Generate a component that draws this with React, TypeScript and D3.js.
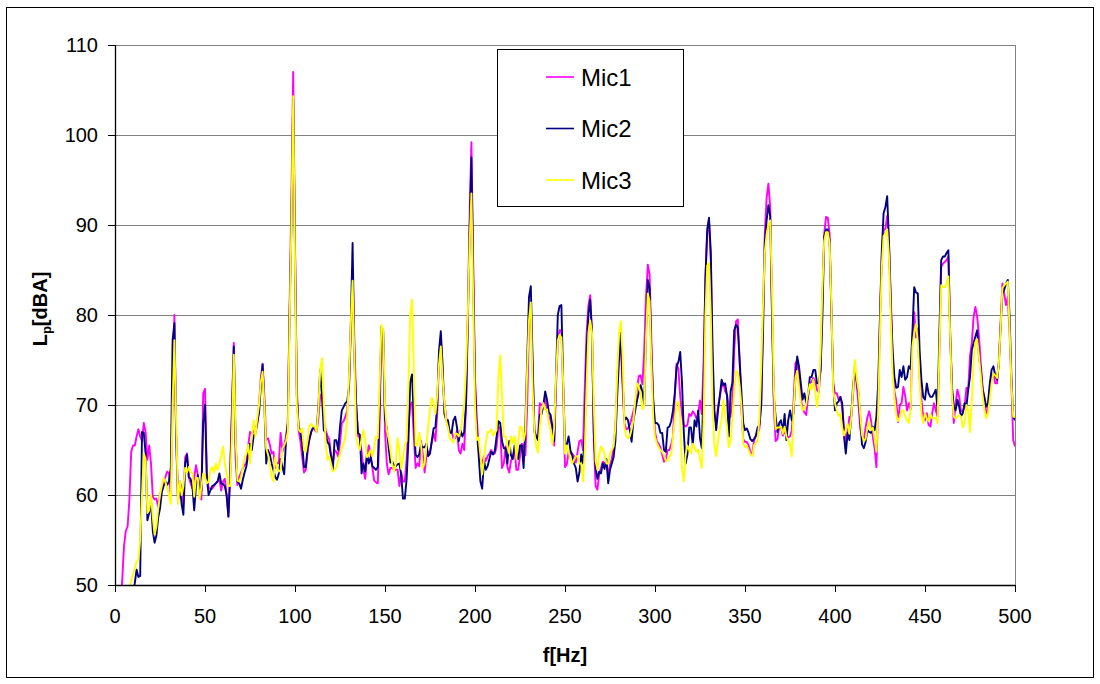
import React from "react";
import * as d3 from "d3";

// Frequency axis: one sample per Hz from 0 to 500 Hz
const F_START = 0;
const F_END = 500;
const freqs: number[] = d3.range(F_START, F_END + 1);

const yTicks = [50, 60, 70, 80, 90, 100, 110];
const xTicks = [0, 50, 100, 150, 200, 250, 300, 350, 400, 450, 500];
const seriesNames = ["Mic1", "Mic2", "Mic3"];
const seriesColors = ["#FF00FF", "#000080", "#FFFF00"];

// Mic1 (magenta), Lp in dBA at f = 0,1,2,...,500 Hz
const mic1: number[] = [
  42, 44, 46, 48, 50.5, 54.3, 56, 56.5, 59.5, 64.8,
  65.5, 65.5, 66.5, 67.3, 66.5, 66, 68, 67, 63.9, 65.5,
  63.5, 59.8, 59.5, 59.6, 58.7, 60, 60.8, 61.5, 62, 62.6,
  62.4, 60, 70, 80, 67, 59.2, 61.5, 60.8, 59, 64.2,
  64.6, 62, 61.3, 60.7, 62, 63.3, 62.2, 60.7, 59.5, 71.3,
  71.8, 62.5, 60.8, 60.7, 60.7, 61, 61.3, 61.5, 61.8, 60.5,
  61.5, 61.8, 60, 57.6, 63, 70, 76.9, 64, 61.1, 62,
  62.5, 63, 63.3, 63.6, 65.5, 67, 66.8, 67.2, 66.8, 67.8,
  70, 73, 74.6, 71, 66.1, 66.3, 65.6, 64.6, 64.8, 63,
  63.6, 63.5, 66.9, 64.8, 65.5, 66.5, 68, 81, 93, 107,
  88, 72, 67.2, 66, 64.2, 62.5, 62.8, 64.8, 66.2, 67,
  67.5, 67.2, 67, 68.5, 71, 71.3, 68.5, 67.2, 66.6, 66.2,
  64.5, 63.5, 65, 64.8, 64.3, 65.8, 68, 68.2, 68.7, 69.4,
  72, 78, 85.2, 77, 70, 66.6, 66.3, 64.8, 62.8, 61.8,
  64.3, 65.5, 64.6, 63, 61.6, 61.4, 61.3, 68, 78.3, 77.5,
  67, 63.5, 62.3, 63, 63, 62.8, 62.8, 62.8, 61, 62.5,
  61.5, 61.5, 63.9, 67.5, 70, 70.3, 66.5, 63, 63.5, 63.2,
  66, 64.5, 62.5, 64.3, 64.8, 64.8, 65.9, 66.9, 66, 69,
  75, 77.5, 73, 70.3, 68.6, 67.5, 67.1, 67.1, 66.3, 66.3,
  67.2, 65, 64.6, 65.7, 65, 70, 80, 91, 99.2, 86,
  73, 68.5, 65.5, 63.5, 63.5, 64.3, 63.8, 64.3, 64.6, 65,
  64.6, 64.6, 65.4, 67.5, 67.5, 63, 63.5, 65.4, 63.1, 62.5,
  63.8, 64.3, 65, 62.8, 62.8, 64.3, 65.7, 65.5, 64.4, 70,
  79, 81.5, 74, 67, 66.3, 66.6, 70.2, 70, 70, 70.7,
  69.5, 68.7, 68.3, 67.5, 65.5, 72, 77, 78.3, 78.3, 71.5,
  63.1, 63.4, 64.8, 64.6, 64.6, 64.3, 63.6, 64.8, 66, 66.1,
  65, 72, 78, 81, 82.2, 78, 66, 61, 60.6, 62.3,
  63, 63.7, 63.5, 63.7, 62.2, 63.3, 64, 65.3, 67.5, 72.5,
  76.5, 76.5, 72, 68, 67.3, 67.4, 67.8, 68.5, 69.3, 70,
  71.8, 73.2, 73.3, 72.3, 76, 82, 85.6, 84.5, 77, 70.5,
  67, 66, 65.7, 65.3, 64.5, 63.7, 64, 65, 65, 65.6,
  66.5, 71, 74.6, 74, 71, 69, 67.8, 67.6, 67.8, 69,
  68.8, 69.3, 69, 68.5, 69, 70.5, 69, 75, 84, 89,
  90.5, 86, 74, 68.5, 68, 69.8, 70.9, 72, 72.4, 71.5,
  71.2, 69.8, 68.7, 70.5, 76, 79.3, 79.5, 75, 69.5, 66.2,
  65.9, 65.9, 65.5, 64.8, 64.4, 66, 66.5, 66.8, 67.4, 70,
  80, 89, 93, 94.6, 92, 81, 70, 66, 66.2, 67.5,
  67.5, 66.6, 67.2, 66.5, 66.4, 66.5, 67.2, 70.5, 74.6, 75,
  73, 70.8, 69.5, 69.2, 68.9, 70.8, 72.4, 72.6, 73, 72.6,
  71.7, 71.4, 74, 82, 89, 90.9, 90.8, 89, 80, 72.4,
  71.3, 71.3, 70.6, 70.9, 69.8, 67.5, 65.8, 67, 68.7, 68.7,
  71, 74.3, 72.4, 70.2, 67.4, 66.5, 66.1, 67.5, 68.6, 69.3,
  68.3, 66.5, 65.2, 63.1, 70.2, 79.8, 86.5, 89.4, 89.6, 91,
  88, 82, 75, 71.5, 70.5, 68.1, 70, 70.2, 72, 71,
  69.4, 70.2, 69.5, 77.5, 80.3, 77.5, 78.5, 73.1, 70.6, 68.7,
  68.3, 69.1, 67.8, 67.6, 69.1, 70.2, 69.4, 68.7, 76.1, 85.4,
  85.7, 85.9, 86.1, 86.5, 78, 71.7, 68, 70.2, 71.7, 70.9,
  69.3, 69.3, 69.8, 71.9, 71.7, 75.4, 76.9, 79.8, 80.9, 79.8,
  77.6, 74.6, 72, 70.6, 68.7, 69.8, 71.7, 73.1, 73.5, 72.4,
  72.4, 74.6, 79.1, 83.5, 82.4, 81.1, 82, 78, 72.4, 66.1,
  65.4,
];

// Mic2 (navy)
const mic2: number[] = [
  40, 40, 41, 42, 43, 44, 45, 46, 47, 48,
  49, 50.2, 51.7, 50.9, 51, 67, 66.9, 64.6, 57.2, 58,
  59.4, 56, 54.7, 55.5, 57.5, 58.5, 60.3, 61, 61.5, 61.1,
  61.5, 63, 77.2, 79.1, 66, 59.5, 61, 59, 57.8, 63.5,
  64.5, 62, 61.8, 61, 58.3, 61, 62.2, 60.5, 60.5, 68,
  70, 62, 60, 60.5, 61, 61.1, 61.3, 61.5, 62.4, 61.3,
  61.2, 61, 60, 57.6, 62, 69, 76.5, 66, 61.5, 61.3,
  60.7, 61.7, 62.5, 63.2, 64.5, 65.7, 65, 66.5, 67, 68,
  69.1, 72, 74.5, 70, 63.5, 65, 64.5, 63.5, 62.8, 62,
  61.7, 62.4, 64, 63.1, 62.3, 66, 68, 80, 90, 104,
  87, 71, 67.6, 67, 65.7, 63.1, 63.1, 65.2, 66.2, 67,
  67.5, 67.4, 67.2, 69.8, 73.9, 71, 67.2, 66.9, 65.9, 65.6,
  64.3, 62.8, 66.1, 66.1, 65, 67.6, 69.4, 69.8, 70.2, 70.4,
  72, 79, 88, 75, 70, 66.9, 66.7, 62.4, 63.5, 62.6,
  64.6, 63.5, 64.2, 63.2, 63, 62.8, 63.1, 70, 78.7, 78.3,
  68.5, 67.4, 65.3, 63.6, 63.7, 63.3, 63.2, 63.4, 63.5, 62.2,
  59.6, 59.6, 61.7, 66, 72.5, 73.4, 68.5, 64.5, 64.2, 64.5,
  65.5, 65.3, 65.3, 65.7, 64.3, 64.6, 66, 67.4, 67.5, 70,
  76, 78.2, 74.5, 69, 68.3, 68.3, 66.9, 66.9, 68.3, 68.7,
  67.5, 66, 67.2, 66.5, 67, 70, 79, 89, 97.5, 84,
  72, 67.2, 64.5, 61.5, 60.7, 63.8, 62.8, 63.2, 64, 64.8,
  64.5, 64.9, 66.5, 68.2, 68, 66, 65.2, 65.2, 63.5, 66,
  64.4, 64, 65.5, 64.8, 64, 65.5, 65.5, 63, 68, 75,
  82, 83.2, 75, 67.2, 66.5, 66.1, 68.9, 69, 70, 71.5,
  70.6, 69.2, 68.9, 67.6, 66, 73, 80, 81, 81.1, 72.4,
  65.7, 65.6, 66.5, 65, 64.4, 63.5, 63, 61.5, 62.5, 64.5,
  63.5, 67, 76, 80, 81.7, 78, 67, 63, 61.8, 62.6,
  62.4, 63.5, 62.9, 64, 61.3, 62.8, 63.5, 64.2, 66, 71,
  75, 78, 73, 68.3, 68.6, 68.3, 67.2, 65.9, 68.3, 69.4,
  70.5, 71.4, 72.2, 71.5, 70, 78, 83.9, 83, 75.5, 70.6,
  68, 68, 67.8, 66.9, 66.9, 65, 64.8, 67.5, 67.6, 68.2,
  69.4, 71.3, 74.3, 74.8, 75.9, 72.5, 67, 63.5, 64.5, 67.5,
  67.5, 65.5, 68.3, 67.6, 69.4, 66.3, 65.2, 72, 84, 89.5,
  90.8, 87, 76, 69.4, 67.2, 69.4, 71, 72.8, 72.2, 72.4,
  71, 66.5, 71.5, 72.5, 78.3, 78.9, 78.6, 75, 71.5, 68,
  67.2, 67.4, 66.9, 66.2, 66, 66.2, 66.6, 67.5, 67.8, 70,
  78, 88, 90.5, 92.2, 91, 80, 71, 68.7, 67, 68,
  68.3, 66.9, 69, 66.1, 68.3, 69.4, 68.3, 69.1, 73.1, 75.4,
  74.3, 72.4, 70.6, 71.3, 70.2, 70.9, 73.1, 73.1, 73.9, 73.9,
  72.4, 72.4, 73.9, 79.8, 88.7, 89.5, 89.5, 88.3, 80.6, 72.4,
  69.4, 70.2, 70.4, 70.9, 70.2, 66.5, 64.6, 66.9, 66.1, 68.7,
  72, 73.9, 72.8, 71.3, 68.7, 65.6, 65.2, 65.9, 67.2, 67,
  66.9, 67.6, 67.2, 68.7, 72.4, 79.8, 87.2, 91.3, 92, 93.2,
  88, 81, 76.1, 73.1, 71.9, 72, 73.9, 73.1, 74.3, 72.8,
  73.1, 74.3, 74, 78, 83.1, 82.5, 82.4, 76.1, 72.8, 70.9,
  70.6, 72.4, 71.3, 70.9, 70.9, 71.3, 71.7, 69.4, 78, 86.1,
  86.5, 86.5, 86.9, 87.2, 77.6, 72, 69.8, 69.4, 70.6, 69.8,
  68.7, 69.1, 70.2, 69.8, 71.7, 73.1, 76.1, 76.9, 77.6, 78.3,
  75.4, 73.9, 71.7, 70.9, 69.8, 70.2, 72.4, 73.9, 74.3, 73.3,
  72.8, 74.6, 78.7, 82.4, 82.8, 83.5, 83.9, 79.8, 73.1, 68.7,
  68.3,
];

// Mic3 (yellow)
const mic3: number[] = [
  40, 41, 42, 43, 44, 45, 46, 47, 49, 50.5,
  51.2, 51.8, 52.6, 52.8, 55, 60, 64.6, 64, 58, 58.3,
  60, 57.5, 55.6, 56.5, 58.5, 60, 61, 61.9, 61.4, 60.8,
  60, 59, 70, 77.2, 68, 59, 61.5, 60, 61, 63,
  62.5, 63.1, 62.5, 62.4, 59.8, 61.9, 61.9, 59.6, 60.9, 62.4,
  62, 61.3, 61.5, 62.8, 63.1, 62.5, 63.5, 62.8, 63.5, 64.4,
  65.4, 63.5, 62.5, 61, 61, 67, 75.6, 66.5, 61.6, 61.5,
  62, 63.1, 64.2, 64.6, 65.6, 63.5, 66.5, 68.3, 66.5, 68.5,
  70, 72.5, 73.7, 70, 65.2, 64.5, 63.5, 62, 61.5, 64.2,
  63.1, 62.6, 62.8, 65.2, 65.5, 66, 67, 79, 90, 104.3,
  86, 70, 67.3, 67, 67.4, 65, 64.8, 66.1, 67.7, 67.9,
  67.6, 67.6, 67, 69.5, 74, 75.2, 70, 66, 63.9, 64.3,
  63.5, 62.6, 62.8, 63.1, 63.8, 64.6, 65.2, 65.7, 66.5, 68.5,
  73, 79, 83.8, 75, 66.5, 65.5, 65, 66.3, 67.2, 66,
  64.2, 64.5, 65, 64.3, 65.2, 66.5, 66.3, 72, 78.9, 78.3,
  70, 67.2, 66.3, 65, 63.5, 62.6, 63.5, 66.3, 65, 62.9,
  64, 65.6, 66, 72, 80, 81.7, 74, 65.5, 65.5, 66.9,
  65.6, 63, 63.5, 65.5, 67.6, 69.5, 70.8, 70.2, 69, 71,
  74.5, 76.5, 73, 70.2, 68.2, 67.5, 66.3, 66.1, 65.8, 66.8,
  66.8, 66.5, 67.2, 68.4, 70, 74, 80, 88, 93.5, 82,
  70, 66.1, 66.4, 64.5, 62.3, 64, 65.8, 67, 67, 67.3,
  66.6, 66.9, 67.2, 73, 75.5, 71, 66.5, 66.5, 65.5, 64.6,
  66.5, 65.8, 66.5, 64, 66, 67.6, 67.5, 66, 67, 74,
  79.4, 81.4, 72, 67, 65.4, 64.7, 67.6, 69.5, 70.2, 69.5,
  69.5, 68, 67.2, 65.6, 67.5, 73, 77.2, 77.8, 77.5, 72.4,
  64.6, 65.5, 64.8, 64, 63.5, 63.9, 64.3, 64.3, 63.5, 63.5,
  61.5, 65, 72.4, 78, 79.4, 78, 70, 63.8, 62.8, 64.5,
  65.4, 65.1, 64.5, 63.5, 63.5, 64.6, 65, 65.4, 67.5, 73.5,
  78, 79.3, 75.5, 67.5, 66.6, 66.3, 66.5, 67.3, 68.3, 70.5,
  72.4, 72, 71.3, 69.5, 70, 77.5, 82.4, 81.5, 74.5, 68.7,
  66.4, 65.8, 65.3, 65, 64.8, 64.4, 63.8, 63.8, 64.3, 64.5,
  66.5, 68.5, 70.2, 70.4, 68.5, 63, 61.5, 64.5, 65.5, 65,
  64.6, 65.7, 65.3, 64.8, 65, 64, 63, 68, 80, 85.5,
  85.8, 80, 70, 65.5, 64.3, 66, 67.4, 68.3, 70.6, 69,
  67.5, 65.3, 66, 68.5, 71.5, 73.8, 73.6, 72.2, 70, 65.7,
  65.3, 65.5, 65, 64.5, 64.3, 65.5, 65.8, 66, 68.5, 74,
  81, 87, 89, 90, 90.5, 83, 72, 67.3, 67.5, 67.5,
  67.6, 66.8, 67.6, 66.5, 66, 65.6, 64.3, 69.5, 73, 73.8,
  72, 70.2, 69.4, 69.6, 70.1, 71.3, 72.3, 71.7, 72.8, 71.5,
  69.8, 71.5, 76, 83, 88.2, 89.2, 89.2, 88, 81, 71.7,
  70.2, 69.4, 68.8, 69, 67.5, 66.6, 67.3, 67.9, 66.8, 68.5,
  71.5, 75, 73.1, 71.7, 69, 66.7, 66, 66.2, 67.5, 68.2,
  67.2, 67.5, 66.3, 64.8, 69.4, 78, 85.4, 88.8, 89, 89.5,
  86.5, 79.5, 73.5, 70.8, 69, 68.2, 68.6, 69.4, 69.4, 68.7,
  68.3, 68, 69.5, 76.5, 78, 79, 77, 72.5, 69, 68,
  69.1, 68.5, 68.2, 69, 68.5, 68.6, 68.5, 68, 76, 83.3,
  83.1, 83.1, 83.5, 84.3, 77.5, 71, 68.7, 68.5, 68.7, 68.9,
  68.7, 67.5, 68, 70, 69.4, 67, 70.5, 75, 77, 77.3,
  75.4, 73.3, 71, 69.5, 68.5, 69.1, 70.6, 72.4, 73.5, 73.3,
  73, 74.5, 78.5, 83, 83.3, 83.5, 83.7, 78.5, 72.4, 68.7,
  68.7,
];

const seriesData = [mic1, mic2, mic3];

const W = 1100;
const H = 684;
const plot = { left: 115, right: 1015, top: 45, bottom: 585 };
const FONT = "'Liberation Sans', Arial, sans-serif";

export default function App() {
  const x = d3.scaleLinear().domain([0, 500]).range([plot.left, plot.right]);
  const y = d3.scaleLinear().domain([50, 110]).range([plot.bottom, plot.top]);

  const line = d3
    .line<number>()
    .x((_, i) => x(freqs[i]))
    .y((d) => y(d));

  const legendX = 497;
  const legendY = 49;
  const legendW = 186;
  const legendH = 157;
  const legendRows = [77, 128.5, 180];

  return (
    <svg
      width={W}
      height={H}
      style={{ position: "absolute", left: 0, top: 0, background: "#fff" }}
      fontFamily={FONT}
    >
      <rect x={0} y={0} width={W} height={H} fill="#fff" />
      <rect x={6.5} y={7.5} width={1087} height={670} fill="none" stroke="#000" strokeWidth={1} />
      <defs>
        <clipPath id="plotClip">
          <rect
            x={plot.left}
            y={plot.top}
            width={plot.right - plot.left}
            height={plot.bottom - plot.top}
          />
        </clipPath>
      </defs>

      {/* gridlines */}
      {yTicks.map((t) => (
        <line
          key={"g" + t}
          x1={plot.left}
          x2={plot.right}
          y1={Math.round(y(t)) + 0.5}
          y2={Math.round(y(t)) + 0.5}
          stroke="#808080"
          strokeWidth={1}
        />
      ))}
      <line
        x1={plot.right + 0.5}
        x2={plot.right + 0.5}
        y1={plot.top}
        y2={plot.bottom}
        stroke="#808080"
        strokeWidth={1}
      />

      {/* series */}
      <g clipPath="url(#plotClip)">
        {seriesData.map((s, k) => (
          <path
            key={seriesNames[k]}
            d={line(s) || ""}
            fill="none"
            stroke={seriesColors[k]}
            strokeWidth={1.9}
            strokeLinejoin="round"
          />
        ))}
      </g>

      {/* axes */}
      <line x1={plot.left + 0.5} x2={plot.left + 0.5} y1={plot.top} y2={plot.bottom} stroke="#000" strokeWidth={1.3} />
      <line x1={plot.left} x2={plot.right} y1={plot.bottom + 0.5} y2={plot.bottom + 0.5} stroke="#000" strokeWidth={1.3} />

      {yTicks.map((t) => (
        <g key={"yt" + t}>
          <line
            x1={plot.left - 7}
            x2={plot.left}
            y1={Math.round(y(t)) + 0.5}
            y2={Math.round(y(t)) + 0.5}
            stroke="#000"
            strokeWidth={1}
          />
          <text x={98} y={y(t) + 7} textAnchor="end" fontSize={20} fill="#000">
            {t}
          </text>
        </g>
      ))}

      {xTicks.map((t) => (
        <g key={"xt" + t}>
          <line
            x1={Math.round(x(t)) + 0.5}
            x2={Math.round(x(t)) + 0.5}
            y1={plot.bottom}
            y2={plot.bottom + 7}
            stroke="#000"
            strokeWidth={1}
          />
          <text x={x(t)} y={623} textAnchor="middle" fontSize={20} fill="#000">
            {t}
          </text>
        </g>
      ))}

      {/* axis titles */}
      <text x={565} y={662} textAnchor="middle" fontSize={20} fontWeight="bold" fill="#000">
        f[Hz]
      </text>
      <text
        transform="translate(47,309) rotate(-90)"
        textAnchor="middle"
        fontSize={20}
        fontWeight="bold"
        fill="#000"
      >
        L<tspan fontSize={13} dy={4}>p</tspan>
        <tspan dy={-4}>[dBA]</tspan>
      </text>

      {/* legend */}
      <rect
        x={legendX + 0.5}
        y={legendY + 0.5}
        width={legendW}
        height={legendH}
        fill="#fff"
        stroke="#000"
        strokeWidth={1}
      />
      {seriesNames.map((n, k) => (
        <g key={"lg" + n}>
          <line
            x1={546}
            x2={574}
            y1={legendRows[k]}
            y2={legendRows[k]}
            stroke={seriesColors[k]}
            strokeWidth={1.6}
          />
          <text x={581} y={legendRows[k] + 8.5} fontSize={24} fill="#000">
            {n}
          </text>
        </g>
      ))}
    </svg>
  );
}
